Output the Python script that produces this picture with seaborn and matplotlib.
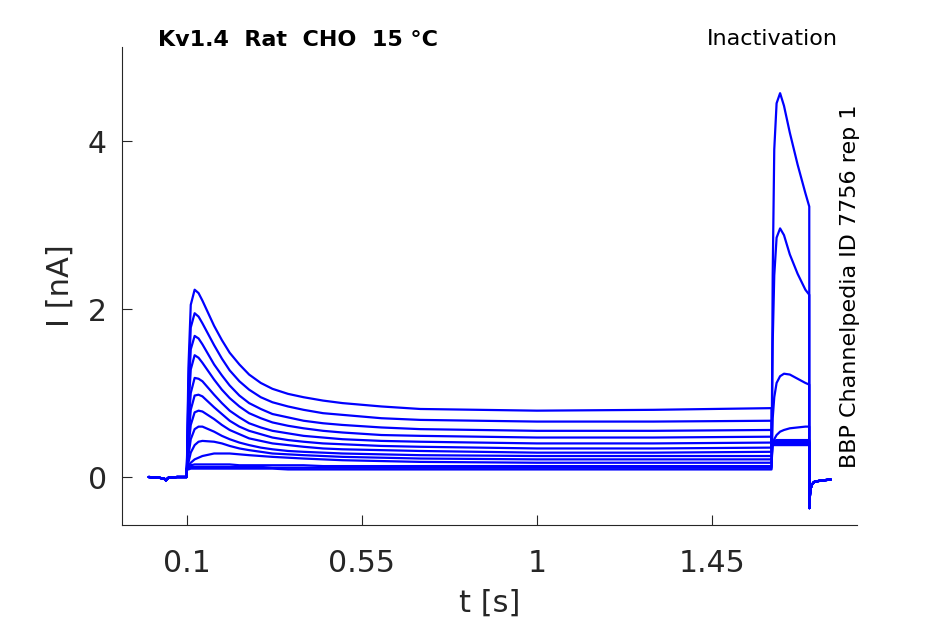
import numpy as np
import pandas as pd
import matplotlib
matplotlib.use('Agg')
import matplotlib.pyplot as plt
import seaborn as sns

# Time grids for the segments of the protocol [s]
t_base = [0.002, 0.030, 0.042, 0.046, 0.052, 0.075, 0.0999]
t_pre = [0.100, 0.104, 0.110, 0.120, 0.130, 0.140, 0.170, 0.190, 0.210, 0.235, 0.260,
         0.290, 0.320, 0.360, 0.400, 0.450, 0.500, 0.600, 0.700, 1.000, 1.300, 1.603]
t_test = [1.6031, 1.606, 1.610, 1.616, 1.625, 1.635, 1.650, 1.670, 1.690, 1.700]
t_tail = [1.7001, 1.7005, 1.702, 1.704, 1.707, 1.712, 1.720, 1.735, 1.755]

# Shared holding and tail currents [nA]
i_base = [0.00, -0.01, -0.02, -0.04, -0.01, 0.00, 0.00]
i_tail = [-0.37, -0.30, -0.20, -0.13, -0.09, -0.06, -0.05, -0.04, -0.03]

# Prepulse currents per sweep [nA]
i_pre = [
    [0.10, 1.30, 2.05, 2.23, 2.19, 2.10, 1.80, 1.63, 1.48, 1.34, 1.22, 1.12, 1.05, 0.99, 0.95, 0.91, 0.88, 0.84, 0.81, 0.79, 0.80, 0.82],
    [0.10, 1.10, 1.78, 1.95, 1.91, 1.83, 1.57, 1.41, 1.27, 1.14, 1.04, 0.95, 0.89, 0.84, 0.80, 0.76, 0.74, 0.70, 0.68, 0.66, 0.66, 0.67],
    [0.10, 0.95, 1.52, 1.68, 1.65, 1.58, 1.34, 1.21, 1.09, 0.97, 0.88, 0.81, 0.75, 0.71, 0.67, 0.64, 0.62, 0.59, 0.57, 0.55, 0.55, 0.56],
    [0.10, 0.80, 1.28, 1.45, 1.42, 1.36, 1.16, 1.04, 0.94, 0.84, 0.76, 0.70, 0.65, 0.61, 0.58, 0.55, 0.53, 0.50, 0.49, 0.47, 0.47, 0.48],
    [0.10, 0.60, 1.00, 1.18, 1.17, 1.14, 0.98, 0.88, 0.79, 0.71, 0.64, 0.59, 0.55, 0.52, 0.49, 0.47, 0.45, 0.43, 0.42, 0.40, 0.40, 0.41],
    [0.10, 0.45, 0.80, 0.97, 0.98, 0.96, 0.83, 0.75, 0.67, 0.60, 0.55, 0.51, 0.47, 0.44, 0.42, 0.40, 0.39, 0.37, 0.36, 0.34, 0.34, 0.35],
    [0.10, 0.35, 0.62, 0.77, 0.79, 0.78, 0.69, 0.62, 0.56, 0.51, 0.46, 0.43, 0.40, 0.38, 0.36, 0.34, 0.33, 0.32, 0.31, 0.29, 0.29, 0.30],
    [0.10, 0.25, 0.45, 0.57, 0.60, 0.60, 0.54, 0.49, 0.45, 0.41, 0.38, 0.35, 0.33, 0.31, 0.30, 0.29, 0.28, 0.27, 0.26, 0.25, 0.25, 0.25],
    [0.10, 0.17, 0.29, 0.38, 0.42, 0.43, 0.42, 0.40, 0.37, 0.34, 0.32, 0.30, 0.28, 0.27, 0.26, 0.25, 0.24, 0.23, 0.22, 0.21, 0.21, 0.21],
    [0.10, 0.13, 0.17, 0.21, 0.23, 0.25, 0.28, 0.28, 0.28, 0.27, 0.26, 0.25, 0.24, 0.23, 0.22, 0.21, 0.20, 0.19, 0.18, 0.17, 0.17, 0.17],
    [0.10, 0.12, 0.14, 0.15, 0.15, 0.15, 0.15, 0.15, 0.15, 0.14, 0.14, 0.14, 0.14, 0.14, 0.14, 0.13, 0.13, 0.13, 0.13, 0.13, 0.13, 0.13],
    [0.10, 0.11, 0.12, 0.12, 0.12, 0.12, 0.12, 0.12, 0.12, 0.12, 0.12, 0.12, 0.11, 0.11, 0.11, 0.11, 0.11, 0.11, 0.11, 0.11, 0.11, 0.11],
    [0.09, 0.09, 0.10, 0.10, 0.10, 0.10, 0.10, 0.10, 0.10, 0.10, 0.10, 0.10, 0.10, 0.09, 0.09, 0.09, 0.09, 0.09, 0.09, 0.09, 0.09, 0.09],
]

# Test pulse currents per sweep [nA]
i_test = [
    [0.38, 0.38, 0.38, 0.38, 0.38, 0.38, 0.38, 0.38, 0.38, 0.38],
    [0.39, 0.39, 0.39, 0.39, 0.39, 0.39, 0.39, 0.39, 0.39, 0.39],
    [0.40, 0.40, 0.40, 0.40, 0.40, 0.40, 0.40, 0.40, 0.40, 0.40],
    [0.40, 0.40, 0.40, 0.40, 0.40, 0.40, 0.40, 0.40, 0.40, 0.40],
    [0.41, 0.41, 0.41, 0.41, 0.41, 0.41, 0.41, 0.41, 0.41, 0.41],
    [0.41, 0.41, 0.41, 0.41, 0.41, 0.41, 0.41, 0.41, 0.41, 0.41],
    [0.42, 0.42, 0.42, 0.42, 0.42, 0.42, 0.42, 0.42, 0.42, 0.42],
    [0.43, 0.43, 0.43, 0.43, 0.43, 0.43, 0.43, 0.43, 0.43, 0.43],
    [0.21, 0.40, 0.43, 0.44, 0.44, 0.44, 0.44, 0.44, 0.44, 0.44],
    [0.17, 0.38, 0.45, 0.50, 0.54, 0.56, 0.58, 0.59, 0.60, 0.60],
    [0.13, 0.70, 0.95, 1.12, 1.20, 1.23, 1.22, 1.17, 1.12, 1.10],
    [0.11, 1.60, 2.40, 2.85, 2.96, 2.88, 2.65, 2.42, 2.23, 2.17],
    [0.10, 2.40, 3.90, 4.45, 4.57, 4.42, 4.10, 3.72, 3.38, 3.22],
]

xticks = [0.1, 0.55, 1, 1.45]
xtick_labels = ['0.1', '0.55', '1', '1.45']
yticks = [0, 2, 4]

# Build long-form table
rows = []
for k in range(len(i_pre)):
    t_all = t_base + t_pre + t_test + t_tail
    i_all = i_base + i_pre[k] + i_test[k] + i_tail
    for t, i in zip(t_all, i_all):
        rows.append({'t': t, 'I': i, 'sweep': k})
df = pd.DataFrame(rows)

sns.set_style('ticks')
plt.rcParams['font.family'] = ['DejaVu Sans']

fig = plt.figure(figsize=(9.45, 6.24), dpi=100)
ax = fig.add_axes([0.129, 0.1587, 0.778, 0.766])

sns.lineplot(data=df, x='t', y='I', units='sweep', estimator=None, sort=False,
             color=(0, 0, 1), linewidth=1.6, ax=ax, legend=False)

ax.set_xlim(-0.067, 1.823)
ax.set_ylim(-0.571, 5.12)
ax.set_xticks(xticks)
ax.set_xticklabels(xtick_labels)
ax.set_yticks(yticks)
ax.tick_params(direction='in', length=7, width=0.8, labelsize=21.5,
               labelcolor='#262626')
ax.tick_params(axis='x', pad=17)
ax.tick_params(axis='y', pad=11)
ax.set_xlabel('t [s]', fontsize=22, color='#262626', labelpad=8)
ax.set_ylabel('I [nA]', fontsize=22, color='#262626', labelpad=9)
for s in ['left', 'bottom']:
    ax.spines[s].set_linewidth(0.8)
    ax.spines[s].set_color('#262626')
sns.despine(ax=ax)

fig.text(158 / 945, 1 - 40 / 624, 'Kv1.4  Rat  CHO  15 \u00b0C', fontsize=16,
         fontweight='bold', ha='left', va='center', color='black')
fig.text(838 / 945, 1 - 39 / 624, 'Inactivation', fontsize=16,
         ha='right', va='center', color='black')
fig.text(850 / 945, 1 - 468 / 624, 'BBP Channelpedia ID 7756 rep 1', fontsize=16,
         rotation=90, ha='center', va='bottom', color='black')

fig.savefig('out.png', dpi=100)
